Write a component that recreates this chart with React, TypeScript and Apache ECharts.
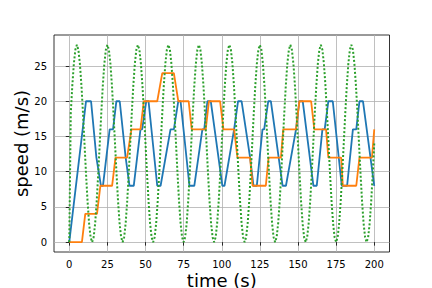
import React, { useEffect, useRef } from "react";
import * as echarts from "echarts";

const xTicks = [0, 25, 50, 75, 100, 125, 150, 175, 200];
const yTicks = [0, 5, 10, 15, 20, 25];

// blue speed trace: [time (s), speed (m/s)] vertices
const blueSpeed: number[][] = [
  [0, 0], [11, 20], [14.3, 20], [17.8, 12], [20.8, 8], [22.1, 8],
  [26.5, 16], [28.7, 16], [30.9, 20], [33.1, 20], [37, 12], [39.5, 8], [42.3, 8],
  [46.7, 16], [47.8, 16], [50.5, 20], [52, 20], [57.7, 8], [59.9, 8],
  [66.4, 16], [68.6, 16], [71.5, 20], [73, 20], [78.8, 8], [82, 8],
  [87.3, 16], [88.5, 16], [90.6, 20], [92.8, 20], [100.4, 8], [101.8, 8],
  [108.1, 16], [110.7, 20], [113, 20], [118.6, 12], [120.8, 8], [123, 8],
  [126.7, 16], [127.8, 16], [130.5, 20], [132.2, 20], [139.9, 8], [142.1, 8],
  [148.7, 16], [150.9, 20], [153.1, 20], [160.1, 8], [162.3, 8],
  [166, 16], [167.5, 16], [169.9, 20], [172.8, 20], [178.7, 8], [182.2, 8],
  [186, 16], [188.2, 16], [190.3, 20], [192.6, 20], [200, 8],
];

// orange staircase: [time (s), speed (m/s)] vertices
const orangeSpeed: number[][] = [
  [0, 0], [8.3, 0], [10.5, 4], [18.2, 4], [20.4, 8], [28.1, 8], [30.3, 12],
  [37.9, 12], [40.8, 16], [46.7, 16], [48.9, 20], [57.7, 20], [61, 24],
  [68.6, 24], [71.5, 20], [78.3, 20], [80.3, 16], [89.5, 16], [91.6, 20],
  [98.9, 20], [101.1, 16], [108.1, 16], [110.3, 12], [118.6, 12], [120.2, 8],
  [128.9, 8], [130.7, 12], [138.8, 12], [140.3, 16], [148.7, 16], [150.9, 20],
  [158.6, 20], [160.7, 16], [168.4, 16], [169.9, 12], [178.3, 12], [179.4, 8],
  [188.2, 8], [190.3, 12], [198.5, 12], [200, 16],
];

// green dotted oscillation, sampled every greenStep seconds from t = 0
const greenStep = 1;
const greenSpeed: number[] = [
  0,
  18.3, 22.2, 25.3, 27.3, 28, 27.3, 25.3, 22.2, 18.3, 14, 9.7, 5.8, 2.7, 0.7, 0, 0.7, 2.7, 5.8, 9.7, 14,
  18.3, 22.2, 25.3, 27.3, 28, 27.3, 25.3, 22.2, 18.3, 14, 9.7, 5.8, 2.7, 0.7, 0, 0.7, 2.7, 5.8, 9.7, 14,
  18.3, 22.2, 25.3, 27.3, 28, 27.3, 25.3, 22.2, 18.3, 14, 9.7, 5.8, 2.7, 0.7, 0, 0.7, 2.7, 5.8, 9.7, 14,
  18.3, 22.2, 25.3, 27.3, 28, 27.3, 25.3, 22.2, 18.3, 14, 9.7, 5.8, 2.7, 0.7, 0, 0.7, 2.7, 5.8, 9.7, 14,
  18.3, 22.2, 25.3, 27.3, 28, 27.3, 25.3, 22.2, 18.3, 14, 9.7, 5.8, 2.7, 0.7, 0, 0.7, 2.7, 5.8, 9.7, 14,
  18.3, 22.2, 25.3, 27.3, 28, 27.3, 25.3, 22.2, 18.3, 14, 9.7, 5.8, 2.7, 0.7, 0, 0.7, 2.7, 5.8, 9.7, 14,
  18.3, 22.2, 25.3, 27.3, 28, 27.3, 25.3, 22.2, 18.3, 14, 9.7, 5.8, 2.7, 0.7, 0, 0.7, 2.7, 5.8, 9.7, 14,
  18.3, 22.2, 25.3, 27.3, 28, 27.3, 25.3, 22.2, 18.3, 14, 9.7, 5.8, 2.7, 0.7, 0, 0.7, 2.7, 5.8, 9.7, 14,
  18.3, 22.2, 25.3, 27.3, 28, 27.3, 25.3, 22.2, 18.3, 14, 9.7, 5.8, 2.7, 0.7, 0, 0.7, 2.7, 5.8, 9.7, 14,
  18.3, 22.2, 25.3, 27.3, 28, 27.3, 25.3, 22.2, 18.3, 14, 9.7, 5.8, 2.7, 0.7, 0, 0.7, 2.7, 5.8, 9.7, 14,
];

const FONT = "DejaVu Sans";

export default function App() {
  const ref = useRef<HTMLDivElement>(null);
  useEffect(() => {
    if (!ref.current) return;
    const chart = echarts.init(ref.current, null, { renderer: "svg" });
    const axisCommon = {
      type: "value" as const,
      axisLine: { show: false },
      axisTick: {
        show: true,
        inside: false,
        length: 3.5,
        lineStyle: { color: "#000", width: 0.8 },
      },
      splitLine: { show: true, lineStyle: { color: "#b0b0b0", width: 0.8 } },
      nameLocation: "middle" as const,
      nameMoveOverlap: false,
      nameTextStyle: { fontFamily: FONT, fontSize: 18, lineHeight: 18, color: "#000" },
    };
    chart.setOption({
      animation: false,
      backgroundColor: "#fff",
      grid: {
        left: 54,
        top: 35,
        width: 335.5,
        height: 217,
        show: true,
        borderColor: "#000",
        borderWidth: 0.8,
        backgroundColor: "transparent",
        containLabel: false,
        outerBoundsMode: "none",
      },
      xAxis: {
        ...axisCommon,
        min: -10,
        max: 210,
        axisTick: { ...axisCommon.axisTick, customValues: xTicks },
        axisLabel: {
          customValues: xTicks,
          color: "#000",
          fontFamily: FONT,
          fontSize: 10,
          margin: 7,
        },
        name: "time (s)",
        nameGap: 19,
      },
      yAxis: {
        ...axisCommon,
        min: -1.4,
        max: 29.4,
        axisTick: { ...axisCommon.axisTick, customValues: yTicks },
        axisLabel: {
          customValues: yTicks,
          color: "#000",
          fontFamily: FONT,
          fontSize: 10,
          margin: 7,
        },
        name: "speed (m/s)",
        nameGap: 24,
      },
      series: [
        {
          type: "line",
          data: blueSpeed,
          symbol: "none",
          lineStyle: { color: "#1f77b4", width: 1.8 },
          itemStyle: { color: "#1f77b4" },
        },
        {
          type: "line",
          data: orangeSpeed,
          symbol: "none",
          lineStyle: { color: "#ff7f0e", width: 1.8 },
          itemStyle: { color: "#ff7f0e" },
        },
        {
          type: "line",
          data: greenSpeed.map((v, i) => [i * greenStep, v]),
          symbol: "none",
          lineStyle: { color: "#2ca02c", width: 2, type: [2, 2] },
          itemStyle: { color: "#2ca02c" },
        },
      ],
    });
    return () => chart.dispose();
  }, []);
  return <div ref={ref} style={{ width: 432, height: 288, position: "absolute", left: 0, top: 0 }} />;
}
